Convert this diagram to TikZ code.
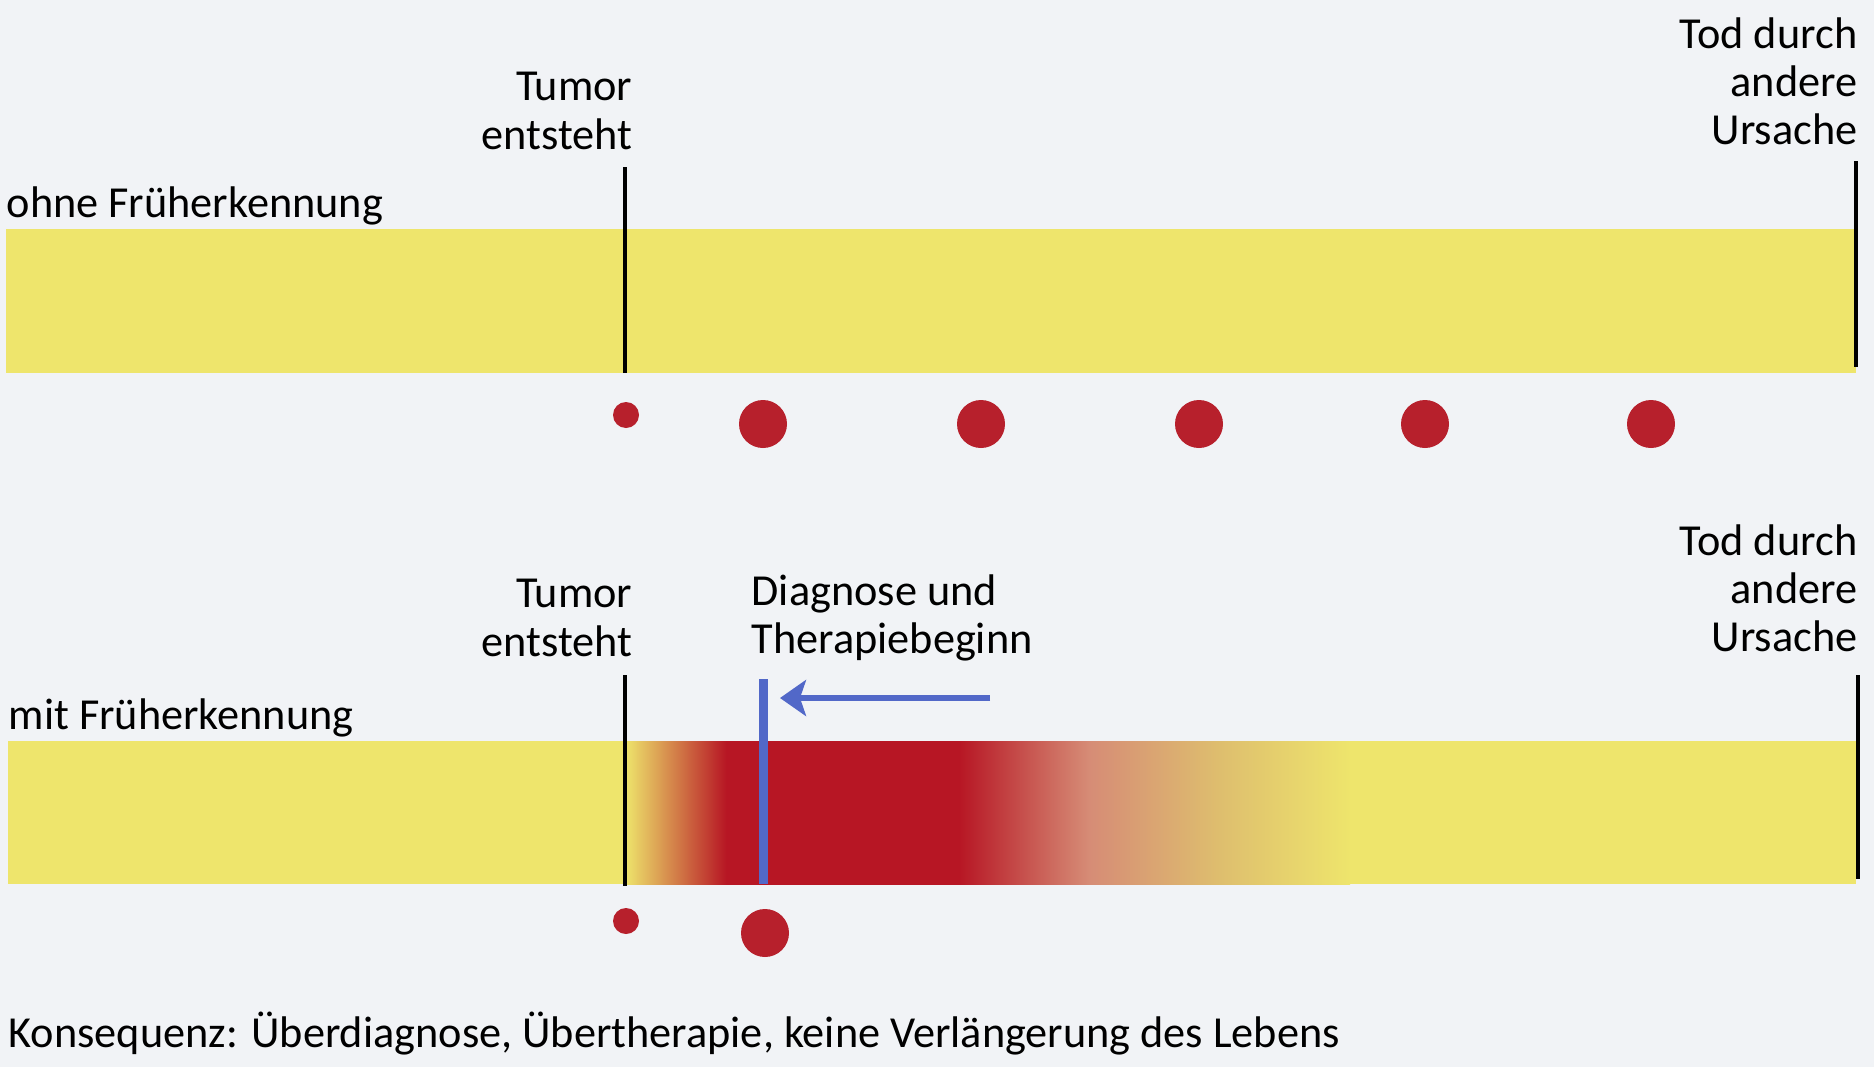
\documentclass[tikz,border=0pt]{standalone}
\usepackage{fontspec}
\setmainfont{Carlito}
\usetikzlibrary{arrows.meta}
\definecolor{paper}{RGB}{241,243,246}
\definecolor{baryellow}{RGB}{238,229,108}
\definecolor{barred}{RGB}{183,22,36}
\definecolor{barsalmon}{RGB}{214,140,118}
\definecolor{bartan}{RGB}{222,190,110}
\definecolor{dotred}{RGB}{183,32,44}
\definecolor{markblue}{RGB}{82,104,200}
\pgfdeclarehorizontalshading{tumorfade}{100bp}{color(0bp)=(baryellow); color(25bp)=(baryellow); color(32bp)=(barred); color(48bp)=(barred); color(57bp)=(barsalmon); color(66bp)=(bartan); color(75bp)=(baryellow); color(100bp)=(baryellow)}
\begin{document}
\begin{tikzpicture}[
  x=0.1mm, y=-0.1mm,
  every node/.style={font=\fontsize{12.6}{13.7}\selectfont, inner sep=0pt},
  eastlabel/.style={align=right, anchor=east},
  westlabel/.style={align=left, anchor=west},
  lifebar/.style={fill=baryellow},
  eventline/.style={draw=black, line width=0.35mm},
  bigdot/.style={circle, fill=dotred, minimum size=4.8mm},
  smalldot/.style={bigdot, minimum size=2.6mm}
]
  \fill[paper] (0,0) rectangle (1874,1067);
  \useasboundingbox (0,0) rectangle (1874,1067);

  % ohne Frueherkennung
  \node[eastlabel] (tumorA) at (633,111) {Tumor\\entsteht};
  \node[eastlabel] (todA) at (1858,81) {Tod durch\\andere\\Ursache};
  \node[westlabel] (ohne) at (6,206) {ohne Früherkennung};
  \fill[lifebar] (6,229) rectangle (1856,373);
  \coordinate (tumorAtop) at (625,167);
  \coordinate (tumorAbot) at (625,373);
  \coordinate (todAtop) at (1856,161);
  \coordinate (todAbot) at (1856,367);
  \draw[eventline] (tumorAtop) -- (tumorAbot);
  \draw[eventline] (todAtop) -- (todAbot);
  \node[smalldot] (seedA) at (626,415) {};
  \foreach \x [count=\i] in {763,981,1199,1425,1651}
    \node[bigdot] (growA\i) at (\x,424) {};

  % mit Frueherkennung
  \node[eastlabel] (tumorB) at (633,618) {Tumor\\entsteht};
  \node[westlabel] (diag) at (751,618) {Diagnose und\\Therapiebeginn};
  \node[eastlabel] (todB) at (1858,588) {Tod durch\\andere\\Ursache};
  \node[westlabel] (mit) at (8,718) {mit Früherkennung};
  \fill[lifebar] (8,741) rectangle (1856,884);
  \shade[shading=tumorfade] (625,741) rectangle (1350,884);
  \coordinate (tumorBtop) at (625,675);
  \coordinate (tumorBbot) at (625,886);
  \coordinate (todBtop) at (1858,675);
  \coordinate (todBbot) at (1858,879);
  \coordinate (diagtop) at (763,679);
  \coordinate (diagbot) at (763,884);
  \coordinate (arrowfrom) at (990,698);
  \coordinate (arrowto) at (780,698);
  \draw[eventline] (tumorBtop) -- (tumorBbot);
  \draw[eventline] (todBtop) -- (todBbot);
  \draw[markblue, line width=0.9mm] (diagtop) -- (diagbot);
  \draw[markblue, line width=0.6mm, -{Stealth[length=2.6mm, width=3.6mm, inset=0.6mm]}] (arrowfrom) -- (arrowto);
  \node[smalldot] (seedB) at (626,921) {};
  \node[bigdot] (growB) at (765,933) {};

  \node[westlabel] (konsequenz) at (8,1034) {Konsequenz: Überdiagnose, Übertherapie, keine Verlängerung des Lebens};
\end{tikzpicture}
\end{document}
